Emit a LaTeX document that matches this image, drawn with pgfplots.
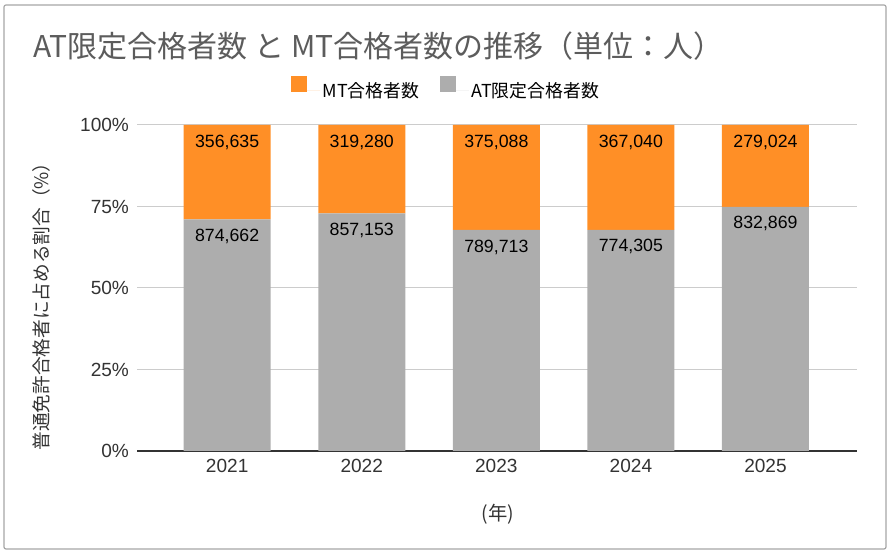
\documentclass[border=0pt]{standalone}
\usepackage{fontspec}
\setmainfont{Liberation Sans}
\newfontfamily\cjk{Noto Sans CJK JP}
\usepackage{pgfplots}
\pgfplotsset{compat=1.18}
\usepackage{pgfplotstable}
\definecolor{mtorange}{HTML}{FF8F26}
\definecolor{atgray}{HTML}{ADADAD}
\definecolor{gridgray}{HTML}{CCCCCC}
\definecolor{titlegray}{HTML}{5C5C5C}
\definecolor{ticktext}{HTML}{333333}

\pgfplotstableread{
x  at      mt      atlabel  mtlabel
0  874662  356635  874,662  356,635
1  857153  319280  857,153  319,280
2  789713  375088  789,713  375,088
3  774305  367040  774,305  367,040
4  832869  279024  832,869  279,024
}\data

\begin{document}
\begin{tikzpicture}
\begin{axis}[
  at={(102.75pt,78.75pt)}, anchor=south west,
  scale only axis, width=540pt, height=244.5pt,
  ybar stacked, bar width=65.25pt,
  xmin=-0.67, xmax=4.68, ymin=0, ymax=100,
  xtick={0,1,2,3,4}, xticklabels={2021,2022,2023,2024,2025},
  ytick={0,25,50,75,100}, yticklabels={0\%,25\%,50\%,75\%,100\%},
  ymajorgrids, grid style={gridgray, line width=0.75pt},
  major tick length=0pt,
  axis x line*=bottom, axis y line*=left,
  x axis line style={draw=black!80, line width=0.9pt, -},
  y axis line style={draw=none},
  tick label style={font=\fontsize{14.3}{17}\selectfont, text=ticktext},
  yticklabel style={xshift=-2.5pt},
  xticklabel style={yshift=-2.5pt},
  nodes near coords, point meta=explicit symbolic,
  visualization depends on={rawy \as \segval},
  every node near coord/.append style={font=\fontsize{13.3}{16}\selectfont, anchor=center, yshift={\segval*1.2225pt-12.75pt}, text=black},
  legend style={at={(0.43,1.11)}, anchor=center, draw=none, fill=none,
    font=\cjk\fontsize{13.4}{15}\selectfont,
    /tikz/every even column/.append style={column sep=13.5pt}},
  legend columns=2, reverse legend,
  legend image code/.code={\fill[#1] (0pt,-1.1pt) rectangle (12pt,10.9pt); \path (0pt,0pt) -- (21.5pt,0pt);},
]
\addplot[fill=atgray, draw=none]
  table[x=x, y expr={\thisrow{at}/(\thisrow{at}+\thisrow{mt})*100}, meta=atlabel]{\data};
\addlegendentry{AT限定合格者数}
\addplot[fill=mtorange, draw=none]
  table[x=x, y expr={\thisrow{mt}/(\thisrow{at}+\thisrow{mt})*100}, meta=mtlabel]{\data};
\addlegendentry{MT合格者数}
\end{axis}
\begin{scope}[x=0.75pt,y=0.75pt]
\node[anchor=base west, inner sep=0, text=titlegray, font=\cjk\fontsize{22.5}{25}\selectfont] at (33,498) {AT限定合格者数 と MT合格者数の推移（単位：人）};
\node[rotate=90, inner sep=0, text=ticktext, font=\cjk\fontsize{14}{16}\selectfont] at (41,254) {普通免許合格者に占める割合（\%）};
\node[inner sep=0, text=ticktext, font=\cjk\fontsize{14.5}{16}\selectfont] at (498,42) {(年)};
\draw[draw=black!35, line width=0.9pt, rounded corners=1.5pt] (4,551) rectangle (886,7);
\end{scope}
\pgfresetboundingbox
\path[use as bounding box] (0,0) rectangle (670.5pt,417pt);
\end{tikzpicture}
\end{document}
